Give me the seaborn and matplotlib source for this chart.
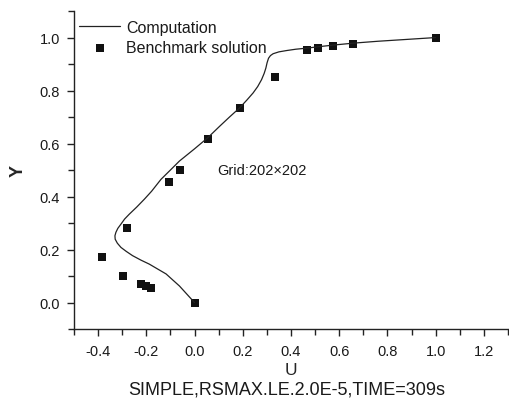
import matplotlib
matplotlib.use("Agg")
import matplotlib.pyplot as plt
from matplotlib.ticker import MultipleLocator
import seaborn as sns
import pandas as pd

# Computed U-velocity profile along the vertical centreline
comp_u = [0.0, -0.03, -0.0625, -0.09, -0.118, -0.15, -0.1875, -0.222, -0.257,
          -0.283, -0.305, -0.32, -0.329, -0.33, -0.326, -0.318, -0.305, -0.29,
          -0.271, -0.24, -0.208, -0.178, -0.139, -0.10, -0.0625, 0.0, 0.055,
          0.104, 0.145, 0.1875, 0.218, 0.243, 0.262, 0.278, 0.289, 0.296,
          0.301, 0.307, 0.315, 0.326, 0.350, 0.382, 0.42, 0.465, 0.52, 0.58,
          0.66, 0.76, 0.88, 1.0]
comp_y = [0.0, 0.03, 0.0625, 0.085, 0.108, 0.125, 0.145, 0.16, 0.177, 0.193,
          0.208, 0.224, 0.239, 0.252, 0.265, 0.28, 0.296, 0.315, 0.333, 0.36,
          0.39, 0.42, 0.465, 0.50, 0.534, 0.58, 0.622, 0.665, 0.70, 0.735,
          0.765, 0.791, 0.815, 0.841, 0.865, 0.885, 0.905, 0.922, 0.932,
          0.939, 0.946, 0.951, 0.956, 0.960, 0.966, 0.972, 0.979, 0.986,
          0.993, 1.0]

# Benchmark solution (Ghia et al., Re = 1000)
bench_u = [1.0, 0.65928, 0.57492, 0.51117, 0.46604, 0.33304, 0.18719, 0.05702,
           -0.06080, -0.10648, -0.27805, -0.38289, -0.29730, -0.22220,
           -0.20196, -0.18109, 0.0]
bench_y = [1.0, 0.9766, 0.9688, 0.9609, 0.9531, 0.8516, 0.7344, 0.6172, 0.5,
           0.4531, 0.2813, 0.1719, 0.1016, 0.0703, 0.0625, 0.0547, 0.0]

x_ticks = [-0.4, -0.2, 0.0, 0.2, 0.4, 0.6, 0.8, 1.0, 1.2]
y_ticks = [0.0, 0.2, 0.4, 0.6, 0.8, 1.0]

sns.set_style("ticks")
plt.rcParams["font.family"] = ["Liberation Sans", "DejaVu Sans"]
plt.rcParams["axes.unicode_minus"] = False
plt.rcParams["text.color"] = "#1a1a1a"
plt.rcParams["xtick.labelcolor"] = "#1a1a1a"
plt.rcParams["ytick.labelcolor"] = "#1a1a1a"

comp = pd.DataFrame({"U": comp_u, "Y": comp_y})
bench = pd.DataFrame({"U": bench_u, "Y": bench_y})

fig = plt.figure(figsize=(5.10, 4.02), dpi=100)
ax = fig.add_axes([0.145, 0.179, 0.851, 0.791])

sns.lineplot(data=comp, x="U", y="Y", sort=False, estimator=None, ax=ax,
             color="#222222", linewidth=0.9, label="Computation")
sns.scatterplot(data=bench, x="U", y="Y", ax=ax, marker="s", s=38,
                color="#111111", edgecolor="#111111", linewidth=0,
                label="Benchmark solution")

ax.set_xlim(-0.5, 1.3)
ax.set_ylim(-0.1, 1.1)
ax.set_xticks(x_ticks)
ax.set_yticks(y_ticks)
ax.xaxis.set_minor_locator(MultipleLocator(0.1))
ax.yaxis.set_minor_locator(MultipleLocator(0.1))
ax.set_xticklabels([f"{v:.1f}" for v in x_ticks])
ax.set_yticklabels([f"{v:.1f}" for v in y_ticks])
ax.tick_params(which="major", direction="out", length=5, width=1,
               labelsize=10.5, color="#222222", pad=5)
ax.tick_params(axis="x", which="major", pad=6)
ax.tick_params(which="minor", direction="out", length=4, width=1,
               color="#222222")

sns.despine(ax=ax)
for side in ("left", "bottom"):
    ax.spines[side].set_linewidth(1)
    ax.spines[side].set_color("#222222")

ax.set_xlabel("U", fontsize=12.5, labelpad=3)
ax.set_ylabel("Y", fontsize=13, fontweight="bold", labelpad=9)

leg = ax.legend(loc="upper left", bbox_to_anchor=(0.0, 0.987), frameon=False,
                fontsize=11.5, handlelength=2.6, handletextpad=0.35,
                labelspacing=0.3, borderaxespad=0.1, borderpad=0.2)

ax.text(0.095, 0.486, "Grid:202\u00d7202", fontsize=10.5)

fig.text(0.563, 0.029, "SIMPLE,RSMAX.LE.2.0E-5,TIME=309s", ha="center",
         va="center", fontsize=13)

fig.savefig("out.png", dpi=100)
